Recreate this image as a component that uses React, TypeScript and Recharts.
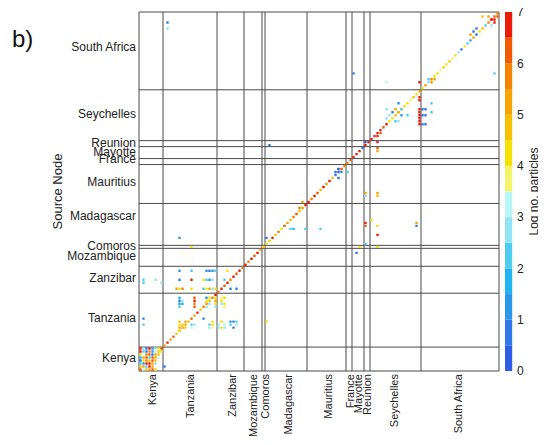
import React from 'react';
import {
  ScatterChart, Scatter, XAxis, YAxis, ReferenceLine,
  BarChart, Bar, Label,
} from 'recharts';

// ---- categories (nodes per country, in matrix order) ----
const countries = ['Kenya', 'Tanzania', 'Zanzibar', 'Mozambique', 'Comoros', 'Madagascar', 'Mauritius', 'France', 'Mayotte', 'Reunion', 'Seychelles', 'South Africa'];
const nodeCounts = [8, 18, 9, 6, 1, 14, 13, 2, 4, 2, 17, 26];
// tick label positions (in node units) on each axis
const xLabelPos = [4.2, 17, 30.9, 38, 42, 49.7, 63, 70.3, 72.9, 76, 85, 106.3];
const yLabelPos = [4.3, 17.7, 31, 38.3, 41.7, 51.7, 63.3, 70.7, 73.3, 76.3, 86, 108.3];

// ---- self-recruitment (diagonal), log no. particles ----
const diagKenya = [6.2, 5.3, 6.8, 4.8, 6.1, 5.2, 4.7, 6.0];
const diagTanzania = [5.4, 6.8, 5.0, 6.2, 4.7, 5.6, 6.9, 5.2, 4.6, 6.3, 5.1, 6.7, 4.8, 5.5, 6.4, 4.5, 5.8, 6.6];
const diagZanzibar = [5.8, 6.7, 6.2, 6.9, 5.6, 6.8, 6.1, 6.6, 5.9];
const diagMozambique = [6.5, 5.7, 6.8, 6.3, 6.9, 5.4];
const diagComoros = [4.3];
const diagMadagascar = [4.4, 5.2, 6.6, 4.6, 5.5, 4.2, 6.4, 5.3, 4.5, 5.8, 6.2, 4.6, 5.0, 6.5];
const diagMauritius = [6.7, 5.6, 6.9, 6.3, 4.8, 6.6, 5.4, 6.8, 4.6, 0.8, 0.3, 6.2, 5.9];
const diagFrance = [5.8, 6.2];
const diagMayotte = [6.9, 6.5, 6.8, 0.5];
const diagReunion = [6.9, 6.7];
const diagSeychelles = [6.8, 6.9, 6.5, 6.8, 6.2, 6.9, 4.3, 4.0, 4.5, 4.1, 4.6, 4.2, 4.4, 3.8, 4.5, 4.2, 5.0];
const diagSouthAfrica = [4.4, 5.2, 2.8, 5.6, 4.0, 4.3, 3.8, 4.5, 4.1, 4.6, 3.9, 4.2, 2.5, 0.8, 4.4, 2.2, 1.0, 5.2, 0.6, 4.3, 4.8, 2.3, 5.5, 6.8, 6.3, 5.8];

// ---- off-diagonal connections: [destination node, source node, log no. particles] ----
const kenyaLinks: [number, number, number][] = [
  [0, 7, 6.8], [1, 7, 2.6], [2, 7, 0.6], [3, 7, 6.6], [4, 7, 1.0], [5, 7, 2.8], [6, 7, 4.3],
  [0, 6, 6.7], [1, 6, 2.0], [2, 6, 0.8], [3, 6, 5.8], [4, 6, 1.4], [5, 6, 3.2], [7, 6, 4.1],
  [0, 5, 4.4], [2, 5, 5.6], [3, 5, 6.2], [4, 5, 0.9], [6, 5, 4.6],
  [0, 4, 1.6], [1, 4, 5.2], [2, 4, 6.4], [3, 4, 2.4], [5, 4, 5.0], [6, 4, 3.4],
  [0, 3, 0.7], [1, 3, 4.4], [2, 3, 5.9], [4, 3, 6.0], [5, 3, 4.8],
  [0, 2, 2.4], [1, 2, 1.2], [3, 2, 6.5], [4, 2, 5.4], [5, 2, 2.9],
  [0, 1, 4.6], [2, 1, 2.2], [3, 1, 6.6], [4, 1, 5.0], [8, 1, 0.5],
  [1, 0, 3.3], [2, 0, 4.5], [3, 0, 5.3], [4, 0, 6.3], [5, 0, 4.4],
];
const tanzaniaLinks: [number, number, number][] = [
  [1, 17, 0.7], [1, 15, 2.3],
  [13, 24, 1.8], [13, 23, 0.9], [13, 22, 1.2], [13, 21, 2.2], [14, 23, 2.8], [14, 22, 1.6],
  [18, 24, 6.2], [18, 23, 6.7], [18, 22, 5.9], [18, 21, 6.4],
  [22, 24, 1.0], [22, 23, 4.3], [22, 22, 4.6], [22, 21, 2.5], [23, 24, 4.2], [23, 22, 2.7],
  [25, 24, 4.4], [25, 23, 5.2], [25, 22, 4.1], [25, 21, 2.9],
  [27, 24, 3.6], [27, 23, 4.1], [27, 22, 2.8], [28, 24, 4.3], [28, 22, 4.4], [28, 21, 3.8],
  [13, 16, 4.7], [13, 15, 4.4], [13, 14, 5.1], [14, 15, 4.9], [14, 14, 4.2], [15, 16, 5.4], [15, 14, 4.6], [13, 13, 4.2],
  [17, 15, 2.4], [17, 14, 3.0], [18, 15, 2.8], [21, 17, 0.6],
  [23, 15, 2.3], [23, 14, 2.6], [24, 16, 4.3], [24, 15, 4.2], [24, 14, 3.8],
  [26, 15, 2.5], [26, 14, 2.7], [27, 16, 4.2], [27, 14, 4.3], [28, 15, 3.1], [28, 14, 2.6],
  [30, 16, 1.4], [30, 15, 2.1], [31, 16, 0.9], [31, 14, 0.7], [32, 16, 2.4], [32, 15, 2.9],
  [42, 16, 4.3],
];
const zanzibarLinks: [number, number, number][] = [
  [1, 30, 2.4], [1, 29, 2.2], [5, 30, 2.9], [7, 29, 2.5],
  [13, 33, 1.0], [17, 33, 2.4], [22, 33, 1.0], [23, 33, 0.8], [24, 33, 1.1], [25, 33, 2.2], [29, 33, 4.3],
  [13, 30, 0.9], [17, 30, 6.8], [21, 30, 4.2], [22, 30, 2.3], [23, 30, 1.0], [24, 30, 2.5], [28, 30, 2.3],
  [12, 27, 5.3], [13, 27, 4.4], [14, 27, 5.6], [17, 27, 4.2], [21, 27, 2.4], [22, 27, 4.4], [23, 27, 5.3],
  [24, 27, 2.8], [25, 27, 4.2], [30, 27, 0.7], [32, 27, 0.9],
];
const centralLinks: [number, number, number][] = [
  [17, 41, 4.3], [13, 44, 1.4], [42, 44, 0.7], [43, 43, 4.4],
  [72, 39, 0.9], [73, 41, 4.2], [75, 42, 2.2], [79, 41, 4.4],
  [50, 47, 2.2], [51, 47, 1.8], [55, 47, 2.0], [60, 47, 2.3],
  [75, 49, 6.7], [75, 48, 6.3], [77, 50, 4.3], [79, 48, 4.2], [79, 45, 6.7], [92, 49, 5.2], [92, 48, 0.6],
  [54, 56, 5.3], [53, 54, 5.6],
  [65, 66, 0.5], [66, 67, 0.4], [67, 66, 1.3], [69, 66, 2.3], [66, 64, 0.9],
  [75, 59, 5.1], [75, 58, 2.5], [79, 59, 5.0], [79, 58, 4.6],
  [43, 75, 0.5], [75, 76, 0.4], [79, 76, 6.6], [79, 74, 6.0], [79, 73, 5.1],
];
const seychellesLinks: [number, number, number][] = [
  [93, 91, 6.6], [93, 90, 6.9], [79, 78, 6.5], [80, 79, 6.3],
  [82, 87, 2.8], [86, 89, 1.0], [87, 87, 2.4], [84, 86, 0.7], [85, 87, 5.2], [86, 86, 5.4],
  [83, 85, 2.6], [82, 84, 2.5], [87, 85, 1.2], [89, 85, 2.2], [85, 83, 2.4], [86, 83, 2.7],
  [97, 89, 2.2], [97, 86, 2.3],
  [93, 87, 6.9], [93, 86, 6.9], [93, 85, 6.9], [93, 84, 6.9], [93, 83, 6.9], [93, 82, 6.9],
  [94, 87, 0.6], [95, 87, 0.8], [94, 85, 0.5], [95, 85, 0.9], [94, 82, 0.6], [95, 82, 0.7],
];
const southAfricaLinks: [number, number, number][] = [
  [9, 116, 0.9], [9, 114, 2.8], [71, 99, 0.7], [82, 96, 3.0], [93, 96, 6.8], [118, 99, 2.3],
  [96, 97, 2.3], [97, 96, 5.3], [98, 97, 5.0],
  [114, 118, 4.8], [118, 116, 6.7], [117, 117, 6.5], [118, 117, 6.9], [119, 118, 6.4], [117, 115, 2.6],
  [116, 118, 5.3], [112, 114, 0.7], [110, 112, 5.2], [111, 113, 0.8],
];

// ---- colour scale (log no. particles) ----
const colorLevels = [0, 0.5, 1, 1.5, 2, 2.5, 3, 3.5, 4, 4.5, 5, 5.5, 6, 6.5];
const levelColors = ['#2e5de6', '#2f7ae8', '#2b97ea', '#1fb4ef', '#4fcdf1', '#90e4f3', '#b8f5f7', '#f4f46c', '#f6e200', '#f8c100', '#f8a400', '#f58300', '#f15a00', '#ec1c0a'];
const colorTicks = [0, 1, 2, 3, 4, 5, 6, 7];

const colorFor = (v: number) => {
  let idx = 0;
  colorLevels.forEach((lv, i) => { if (v >= lv) idx = i; });
  return levelColors[idx];
};

// ---- derived tables ----
const diagonalValues = [
  ...diagKenya, ...diagTanzania, ...diagZanzibar, ...diagMozambique, ...diagComoros, ...diagMadagascar,
  ...diagMauritius, ...diagFrance, ...diagMayotte, ...diagReunion, ...diagSeychelles, ...diagSouthAfrica,
];
const N = diagonalValues.length;
const starts: number[] = [];
nodeCounts.reduce((acc, c) => { starts.push(acc); return acc + c; }, 0);
const boundaries = [...starts, N];

const cells = [
  ...diagonalValues.map((v, i) => ({ x: i + 0.5, y: i + 0.5, v })),
  ...[...kenyaLinks, ...tanzaniaLinks, ...zanzibarLinks, ...centralLinks, ...seychellesLinks, ...southAfricaLinks]
    .map(([c, r, v]) => ({ x: c + 0.5, y: r + 0.5, v })),
];

const colorbarRow = [{ name: 'scale', ...Object.fromEntries(colorLevels.map((_, i) => [`s${i}`, 0.5])) }];

const nameAt = (positions: number[], val: number) => {
  const i = positions.findIndex((c) => Math.abs(c - val) < 1e-6);
  return i >= 0 ? countries[i] : '';
};

const CELL = 3;
const CellShape = (props: any) => {
  const { cx, cy, payload } = props;
  if (cx == null || cy == null) return null;
  const s = CELL * 0.8;
  return <rect x={cx - s / 2} y={cy - s / 2} width={s} height={s} rx={0.5} fill={colorFor(payload.v)} />;
};

const XTick = (props: any) => {
  const { x, y, payload } = props;
  return (
    <text x={x} y={y} transform={`rotate(-90 ${x} ${y})`} textAnchor="end" dominantBaseline="central" fontSize={11} fill="#222">
      {nameAt(xLabelPos, payload.value)}
    </text>
  );
};

const YTick = (props: any) => {
  const { x, y, payload } = props;
  return (
    <text x={x} y={y} textAnchor="end" dominantBaseline="central" fontSize={12} fill="#222">
      {nameAt(yLabelPos, payload.value)}
    </text>
  );
};

const LINE = '#4a4a4a';

export default function App() {
  return (
    <div style={{ position: 'relative', margin: -8, width: 546, height: 445, fontFamily: '"Liberation Sans", Arial, sans-serif', background: '#fff', overflow: 'hidden' }}>
      <div style={{ position: 'absolute', left: 12, top: 25, fontSize: 24, color: '#111', lineHeight: '28px' }}>b)</div>
      <div style={{ position: 'absolute', left: 0, top: 0 }}>
        <ScatterChart width={546} height={445} margin={{ top: 12, right: 47, bottom: 0, left: 0 }}>
          <XAxis
            type="number" dataKey="x" domain={[0, N]} ticks={xLabelPos} interval={0}
            tick={<XTick />} tickSize={0} tickMargin={3} axisLine={false} tickLine={false} height={74}
            allowDataOverflow
          />
          <YAxis
            type="number" dataKey="y" domain={[0, N]} ticks={yLabelPos} interval={0}
            tick={<YTick />} tickSize={0} tickMargin={3} axisLine={false} tickLine={false} width={139}
            allowDataOverflow
          >
            <Label value="Source Node" angle={-90} position="center" dx={-12} style={{ fontSize: 13, fill: '#222' }} />
          </YAxis>
          {boundaries.map((b) => (
            <ReferenceLine key={`vx${b}`} x={b} stroke={LINE} strokeWidth={1} />
          ))}
          {boundaries.map((b) => (
            <ReferenceLine key={`hy${b}`} y={b} stroke={LINE} strokeWidth={1} />
          ))}
          <Scatter data={cells} shape={<CellShape />} isAnimationActive={false} />
        </ScatterChart>
      </div>
      <div style={{ position: 'absolute', left: 505, top: 0 }}>
        <BarChart width={41} height={445} data={colorbarRow} margin={{ top: 12, right: 0, bottom: 74, left: 0 }} barCategoryGap={0} barGap={0}>
          <XAxis dataKey="name" type="category" hide />
          <YAxis
            orientation="right" type="number" domain={[0, 7]} ticks={colorTicks} interval={0}
            axisLine={false} tickLine={false} tickSize={0} tickMargin={4} width={33}
            tick={{ fontSize: 12, fill: '#222' }}
          >
            <Label value="Log no. particles" angle={-90} position="center" dx={4} style={{ fontSize: 12, fill: '#222' }} />
          </YAxis>
          {colorLevels.map((_, i) => (
            <Bar key={i} dataKey={`s${i}`} stackId="cb" barSize={8} fill={levelColors[i]} isAnimationActive={false} />
          ))}
        </BarChart>
      </div>
    </div>
  );
}
